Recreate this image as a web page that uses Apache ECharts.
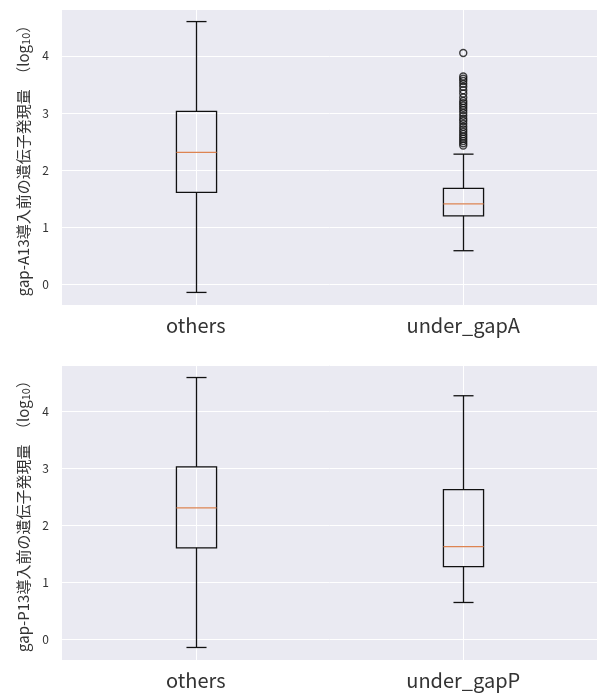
<!DOCTYPE html>
<html>
<head>
<meta charset="utf-8">
<script src="https://cdn.jsdelivr.net/npm/echarts@6/dist/echarts.min.js"></script>
<style>
  html, body { margin: 0; padding: 0; background: #fff; }
  #chart { width: 597px; height: 696px; }
</style>
</head>
<body>
<div id="chart"></div>
<script>
// カテゴリ
var categoriesA = ['others', 'under_gapA'];
var categoriesP = ['others', 'under_gapP'];

// 箱ひげ: [下ひげ, Q1, 中央値, Q3, 上ひげ]
var othersStats = [-0.14, 1.61, 2.31, 3.03, 4.60];
var gapAStats = [0.59, 1.20, 1.41, 1.68, 2.28];
var gapPStats = [0.65, 1.28, 1.63, 2.63, 4.28];

// 外れ値 (under_gapA)
var gapAOutliers = [4.05, 3.64, 3.60, 3.56, 3.51, 3.46, 3.40, 3.34, 3.27, 3.21, 3.17, 3.13,
  3.09, 3.05, 3.00, 2.95, 2.90, 2.86, 2.81, 2.76, 2.71, 2.67, 2.63, 2.59, 2.55, 2.51, 2.47, 2.43];

var yMin = -0.36, yMax = 4.82;
var font = 'Noto Sans CJK JP';
var textColor = '#333';

var chart = echarts.init(document.getElementById('chart'));

// 箱ひげを描く
function renderBox(params, api) {
  var x = api.value(0);
  var lo = api.coord([x, api.value(1)]);
  var q1 = api.coord([x, api.value(2)]);
  var med = api.coord([x, api.value(3)]);
  var q3 = api.coord([x, api.value(4)]);
  var hi = api.coord([x, api.value(5)]);
  var band = api.size([1, 0])[0];
  var half = band * 0.15 / 2;
  var cap = half / 2;
  var px = Math.round(med[0]) + 0.5;
  var cs = params.coordSys;
  var black = { stroke: '#111', lineWidth: 1.3, fill: null };
  return {
    type: 'group',
    children: [
      { type: 'line', shape: { x1: px, y1: cs.y, x2: px, y2: cs.y + cs.height }, style: { stroke: '#fff', lineWidth: 1 } },
      { type: 'line', shape: { x1: px, y1: lo[1], x2: px, y2: q1[1] }, style: black },
      { type: 'line', shape: { x1: px, y1: q3[1], x2: px, y2: hi[1] }, style: black },
      { type: 'line', shape: { x1: px - cap, y1: lo[1], x2: px + cap, y2: lo[1] }, style: black },
      { type: 'line', shape: { x1: px - cap, y1: hi[1], x2: px + cap, y2: hi[1] }, style: black },
      { type: 'rect', shape: { x: px - half, y: q3[1], width: half * 2, height: q1[1] - q3[1] }, style: black },
      { type: 'line', shape: { x1: px - half, y1: med[1], x2: px + half, y2: med[1] }, style: { stroke: '#DD8452', lineWidth: 1.3 } }
    ]
  };
}

function boxRows(list) {
  return list.map(function (s, i) { return [i].concat(s); });
}

function yAxisFor(idx, label) {
  return {
    gridIndex: idx,
    type: 'value',
    min: yMin,
    max: yMax,
    splitNumber: 5,
    name: label,
    nameLocation: 'middle',
    nameRotate: 90,
    nameGap: 31,
    nameTextStyle: {
      fontFamily: font, fontSize: 15, color: textColor,
      rich: { sub: { fontFamily: font, fontSize: 11, color: textColor, padding: [5, 0, 0, 0] } }
    },
    axisLine: { show: false },
    axisTick: { show: false },
    axisLabel: { showMinLabel: false, showMaxLabel: false, fontFamily: font, fontSize: 12, color: textColor, margin: 13 },
    splitLine: { lineStyle: { color: '#fff', width: 1 } }
  };
}

function xAxisFor(idx, cats) {
  return {
    gridIndex: idx,
    type: 'category',
    data: cats,
    axisLine: { show: false },
    axisTick: { show: false },
    splitLine: { show: false },
    axisLabel: { fontFamily: font, fontSize: 20, color: textColor, margin: 10 }
  };
}

chart.setOption({
  animation: false,
  grid: [
    { left: 62, right: 0, top: 9, height: 296, show: true, backgroundColor: '#EAEAF2', borderWidth: 0 },
    { left: 62, right: 0, top: 365, height: 295, show: true, backgroundColor: '#EAEAF2', borderWidth: 0 }
  ],
  xAxis: [xAxisFor(0, categoriesA), xAxisFor(1, categoriesP)],
  yAxis: [
    yAxisFor(0, 'gap-A13導入前の遺伝子発現量　（log{sub|10}）'),
    yAxisFor(1, 'gap-P13導入前の遺伝子発現量　（log{sub|10}）')
  ],
  series: [
    {
      type: 'custom', xAxisIndex: 0, yAxisIndex: 0,
      renderItem: renderBox,
      encode: { x: 0, y: [1, 2, 3, 4, 5] },
      data: boxRows([othersStats, gapAStats])
    },
    {
      type: 'scatter', xAxisIndex: 0, yAxisIndex: 0,
      symbol: 'circle', symbolSize: 7,
      itemStyle: { color: 'rgba(0,0,0,0)', borderColor: '#111', borderWidth: 1.4 },
      data: gapAOutliers.map(function (v) { return [1, v]; })
    },
    {
      type: 'custom', xAxisIndex: 1, yAxisIndex: 1,
      renderItem: renderBox,
      encode: { x: 0, y: [1, 2, 3, 4, 5] },
      data: boxRows([othersStats, gapPStats])
    }
  ]
});
</script>
</body>
</html>
